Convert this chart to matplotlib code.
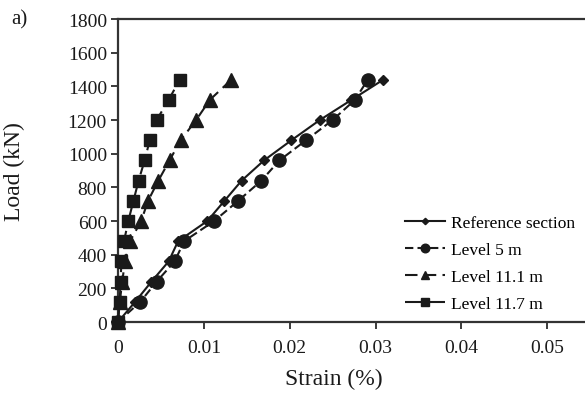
import matplotlib

matplotlib.use("Agg")
import matplotlib.pyplot as plt

plt.rcParams["font.family"] = ["Liberation Serif", "DejaVu Serif"]

load = [0, 120, 240, 360, 480, 600, 720, 840, 960, 1080, 1200, 1320, 1440]
strain_ref = [0, 0.0020, 0.0039, 0.0059, 0.0070, 0.0104, 0.0124, 0.0144, 0.0170, 0.0202,
              0.0235, 0.0272, 0.0309]
strain_5m = [0, 0.0026, 0.0045, 0.0066, 0.0077, 0.0112, 0.0140, 0.0167, 0.0188, 0.0219,
             0.0250, 0.0276, 0.0291]
strain_111 = [0, 0.0002, 0.0005, 0.0008, 0.0014, 0.0027, 0.0035, 0.0047, 0.0060, 0.0073,
              0.0091, 0.0107, 0.0132]
strain_117 = [0, 0.0002, 0.0003, 0.0004, 0.0007, 0.0012, 0.0018, 0.0024, 0.0031, 0.0037,
              0.0045, 0.0059, 0.0072]

xticks = [0, 0.01, 0.02, 0.03, 0.04, 0.05]
xtick_labels = ["0", "0.01", "0.02", "0.03", "0.04", "0.05"]
yticks = list(range(0, 1801, 200))

ink = "#1a1a1a"

fig = plt.figure(figsize=(5.85, 4.02), dpi=100)
ax = fig.add_axes([0.2017, 0.1965, 0.7983, 0.7535])

ax.plot(strain_ref, load, color=ink, lw=1.5, ls="-", marker="D", ms=5,
        clip_on=False, label="Reference section", zorder=4)
ax.plot(strain_5m, load, color=ink, lw=1.5, ls=(0, (4, 2)), marker="o", ms=9.5,
        clip_on=False, label="Level 5 m", zorder=3)
ax.plot(strain_111, load, color=ink, lw=1.5, ls=(0, (6, 3)), marker="^", ms=9.5,
        clip_on=False, label="Level 11.1 m", zorder=3)
ax.plot(strain_117, load, color=ink, lw=1.5, ls=(0, (8, 4)), marker="s", ms=9,
        clip_on=False, label="Level 11.7 m", zorder=3)

ax.set_xlim(0, 0.0544)
ax.set_ylim(0, 1800)
ax.set_xticks(xticks)
ax.set_xticklabels(xtick_labels)
ax.set_yticks(yticks)
ax.tick_params(direction="out", length=5, width=1.2, colors=ink, labelsize=14, pad=3)
ax.tick_params(axis="x", pad=7)

for side in ("left", "bottom", "top"):
    ax.spines[side].set_linewidth(1.6)
    ax.spines[side].set_color("#333333")
ax.spines["right"].set_visible(False)

ax.set_xlabel("Strain (%)", fontsize=17, color=ink)
ax.xaxis.set_label_coords(0.4625, -0.15)
ax.set_ylabel("Load (kN)", fontsize=17, color=ink)
ax.yaxis.set_label_coords(-0.2, 0.5)

fig.text(0.02, 0.975, "a)", fontsize=15, color=ink, va="top")

ax.legend(loc="lower left", bbox_to_anchor=(0.6, 0.01), frameon=False, fontsize=12.5,
          handlelength=2.3, handletextpad=0.35, labelspacing=0.62, borderaxespad=0,
          markerscale=0.65)

fig.savefig("out.png", dpi=100)
